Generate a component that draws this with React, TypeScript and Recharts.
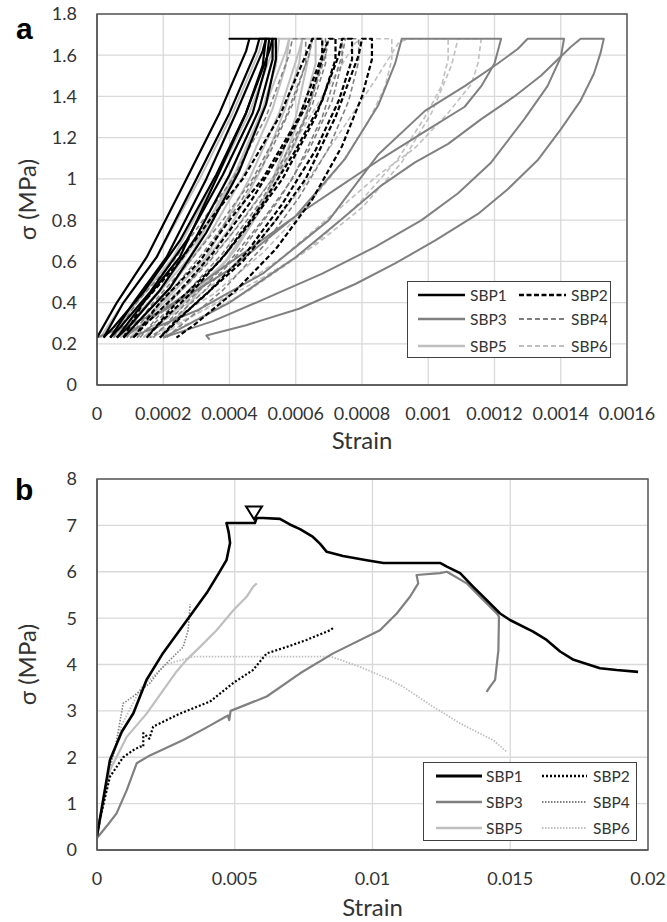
import { CartesianGrid, ComposedChart, Line, ReferenceArea, Scatter, XAxis, YAxis } from "recharts";

type Pt = [number, number];

// ---- panel a: cyclic loops, [strain, stress MPa] ----
const sbp1Loops: Pt[][] = [
  [[0, 0.23], [0.00006, 0.4], [0.00015, 0.62], [0.00027, 1.0], [0.00037, 1.32], [0.00045, 1.62], [0.00046, 1.68], [0.0004, 1.68], [0.00051, 1.68],
   [0.0005, 1.55], [0.00045, 1.32], [0.00036, 1.02], [0.00025, 0.7], [0.00014, 0.45], [0.00005, 0.28], [0.00002, 0.23]],
  [[0.00002, 0.23], [0.00008, 0.4], [0.00018, 0.62], [0.0003, 1.0], [0.0004, 1.32], [0.00048, 1.62], [0.00049, 1.68], [0.00052, 1.68],
   [0.00051, 1.55], [0.00047, 1.32], [0.00038, 1.02], [0.00027, 0.7], [0.00016, 0.45], [0.00007, 0.28], [0.00004, 0.23]],
  [[0.00004, 0.23], [0.00011, 0.4], [0.00021, 0.62], [0.00033, 1.0], [0.00042, 1.32], [0.0005, 1.62], [0.00051, 1.68], [0.00053, 1.68],
   [0.00053, 1.58], [0.00049, 1.34], [0.0004, 1.02], [0.0003, 0.72], [0.00019, 0.46], [0.0001, 0.29], [0.00006, 0.23]],
  [[0.00006, 0.23], [0.00014, 0.4], [0.00025, 0.62], [0.00036, 1.0], [0.00045, 1.32], [0.00052, 1.62], [0.00053, 1.68], [0.00054, 1.68],
   [0.00054, 1.58], [0.00051, 1.36], [0.00043, 1.04], [0.00033, 0.74], [0.00022, 0.47], [0.00012, 0.3], [0.00008, 0.23]],
];

const sbp2Loops: Pt[][] = [
  [[0.00008, 0.23], [0.00014, 0.4], [0.00025, 0.6], [0.00034, 0.8], [0.00044, 1.0], [0.00055, 1.3], [0.00063, 1.6], [0.00065, 1.68], [0.00068, 1.68],
   [0.00068, 1.58], [0.00064, 1.38], [0.00056, 1.14], [0.00046, 0.88], [0.00035, 0.64], [0.00024, 0.44], [0.00015, 0.3], [0.00011, 0.23]],
  [[0.00011, 0.23], [0.00019, 0.4], [0.00031, 0.6], [0.0004, 0.8], [0.0005, 1.0], [0.00061, 1.3], [0.00068, 1.6], [0.0007, 1.68], [0.00072, 1.68],
   [0.00072, 1.58], [0.00068, 1.38], [0.0006, 1.14], [0.0005, 0.88], [0.00039, 0.64], [0.00028, 0.44], [0.00019, 0.3], [0.00015, 0.23]],
  [[0.00015, 0.23], [0.00024, 0.4], [0.00037, 0.6], [0.00047, 0.8], [0.00056, 1.0], [0.00066, 1.3], [0.00073, 1.6], [0.00074, 1.68], [0.00077, 1.68],
   [0.00077, 1.58], [0.00073, 1.38], [0.00066, 1.14], [0.00056, 0.88], [0.00045, 0.64], [0.00033, 0.44], [0.00023, 0.3], [0.00019, 0.23]],
  [[0.00019, 0.23], [0.0003, 0.4], [0.00044, 0.6], [0.00054, 0.8], [0.00063, 1.0], [0.00072, 1.3], [0.00079, 1.6], [0.0008, 1.68], [0.00083, 1.68],
   [0.00083, 1.58], [0.0008, 1.4], [0.00074, 1.16], [0.00065, 0.9], [0.00054, 0.66], [0.00042, 0.46], [0.0003, 0.3], [0.00024, 0.23]],
];

const sbp3Loops: Pt[][] = [
  [[0, 0.23], [0.0002, 0.36], [0.0004, 0.56], [0.0006, 0.82], [0.00075, 1.1], [0.00085, 1.36], [0.0009, 1.56], [0.00092, 1.68], [0.00122, 1.68],
   [0.0012, 1.56], [0.00116, 1.45], [0.00111, 1.35], [0.001, 1.24], [0.00086, 1.1], [0.00073, 0.96], [0.0006, 0.82], [0.00046, 0.66],
   [0.00031, 0.49], [0.00018, 0.34], [0.00008, 0.23]],
  [[0.0001, 0.23], [0.0003, 0.36], [0.0005, 0.54], [0.0007, 0.8], [0.00085, 1.12], [0.00099, 1.33], [0.00111, 1.45], [0.00121, 1.56],
   [0.00127, 1.63], [0.0013, 1.68], [0.00141, 1.68],
   [0.0014, 1.59], [0.00136, 1.45], [0.00129, 1.29], [0.00119, 1.08], [0.00109, 0.93], [0.00098, 0.8], [0.00084, 0.67], [0.00068, 0.54],
   [0.00051, 0.42], [0.00035, 0.31], [0.0002, 0.23]],
  [[0.0002, 0.23], [0.0004, 0.4], [0.0006, 0.62], [0.00075, 0.82], [0.00086, 0.97], [0.00096, 1.08], [0.00106, 1.17], [0.00116, 1.29],
   [0.00126, 1.4], [0.00134, 1.5], [0.00143, 1.64], [0.00146, 1.68], [0.00153, 1.68],
   [0.00152, 1.61], [0.0015, 1.51], [0.00146, 1.38], [0.0014, 1.24], [0.00133, 1.09], [0.00124, 0.95], [0.00115, 0.83], [0.00102, 0.7],
   [0.0009, 0.59], [0.00078, 0.49], [0.00061, 0.37], [0.00045, 0.29], [0.00033, 0.24], [0.00034, 0.22]],
];

const sbp4Loops: Pt[][] = [
  [[0.00005, 0.23], [0.00012, 0.4], [0.00023, 0.6], [0.00032, 0.8], [0.00041, 1.0], [0.00051, 1.3], [0.00058, 1.6], [0.00059, 1.68], [0.00063, 1.68],
   [0.00063, 1.56], [0.00059, 1.36], [0.00052, 1.12], [0.00043, 0.88], [0.00032, 0.64], [0.00021, 0.43], [0.00012, 0.28], [0.00008, 0.23]],
  [[0.00009, 0.23], [0.00017, 0.4], [0.00028, 0.6], [0.00038, 0.8], [0.00047, 1.0], [0.00057, 1.3], [0.00064, 1.6], [0.00065, 1.68], [0.00069, 1.68],
   [0.00069, 1.56], [0.00065, 1.36], [0.00058, 1.12], [0.00049, 0.88], [0.00038, 0.64], [0.00026, 0.43], [0.00016, 0.28], [0.00012, 0.23]],
  [[0.00013, 0.23], [0.00022, 0.4], [0.00034, 0.6], [0.00044, 0.8], [0.00053, 1.0], [0.00063, 1.3], [0.00069, 1.6], [0.0007, 1.68], [0.00074, 1.68],
   [0.00074, 1.57], [0.00071, 1.38], [0.00064, 1.14], [0.00055, 0.9], [0.00044, 0.66], [0.00032, 0.45], [0.00021, 0.29], [0.00016, 0.23]],
  [[0.00017, 0.23], [0.00027, 0.4], [0.0004, 0.6], [0.0005, 0.8], [0.00059, 1.0], [0.00068, 1.3], [0.00074, 1.6], [0.00075, 1.68], [0.00079, 1.68],
   [0.00079, 1.57], [0.00076, 1.38], [0.0007, 1.15], [0.00061, 0.91], [0.0005, 0.67], [0.00038, 0.46], [0.00026, 0.3], [0.00021, 0.23]],
];

const sbp5Loops: Pt[][] = [
  [[0.00001, 0.23], [0.00008, 0.4], [0.00018, 0.62], [0.00031, 1.0], [0.00041, 1.32], [0.00049, 1.62], [0.0005, 1.68], [0.00055, 1.68],
   [0.00054, 1.55], [0.0005, 1.34], [0.00042, 1.04], [0.00031, 0.72], [0.00019, 0.46], [0.00009, 0.29], [0.00004, 0.23]],
  [[0.00004, 0.23], [0.00012, 0.4], [0.00023, 0.62], [0.00036, 1.0], [0.00046, 1.32], [0.00053, 1.62], [0.00054, 1.68], [0.00058, 1.68],
   [0.00057, 1.55], [0.00053, 1.34], [0.00045, 1.04], [0.00034, 0.73], [0.00022, 0.47], [0.00012, 0.3], [0.00007, 0.23]],
  [[0.00007, 0.23], [0.00016, 0.4], [0.00028, 0.62], [0.00041, 1.0], [0.0005, 1.32], [0.00057, 1.62], [0.00058, 1.68], [0.00062, 1.68],
   [0.00061, 1.56], [0.00057, 1.35], [0.0005, 1.06], [0.0004, 0.76], [0.00028, 0.5], [0.00016, 0.32], [0.0001, 0.23]],
  [[0.0001, 0.23], [0.0002, 0.4], [0.00033, 0.62], [0.00046, 1.0], [0.00055, 1.32], [0.00061, 1.62], [0.00062, 1.68], [0.00066, 1.68],
   [0.00066, 1.56], [0.00063, 1.38], [0.00057, 1.12], [0.00049, 0.85], [0.00038, 0.58], [0.00025, 0.38], [0.00014, 0.23]],
  [[0.00014, 0.23], [0.00026, 0.4], [0.0004, 0.62], [0.00052, 0.95], [0.0006, 1.3], [0.00064, 1.6], [0.00065, 1.68], [0.00068, 1.68],
   [0.00068, 1.58], [0.00065, 1.4], [0.0006, 1.18], [0.00052, 0.92], [0.00042, 0.66], [0.0003, 0.44], [0.0002, 0.23]],
];

const sbp6Loops: Pt[][] = [
  [[0.00005, 0.23], [0.00015, 0.33], [0.00028, 0.5], [0.0004, 0.72], [0.00052, 0.98], [0.00062, 1.24], [0.00071, 1.48], [0.00078, 1.66],
   [0.0008, 1.68], [0.00089, 1.68],
   [0.00089, 1.58], [0.00087, 1.45], [0.00082, 1.28], [0.00074, 1.08], [0.00063, 0.86], [0.0005, 0.64], [0.00035, 0.44], [0.0002, 0.29], [0.0001, 0.23]],
  [[0.0001, 0.23], [0.00022, 0.33], [0.00036, 0.5], [0.0005, 0.72], [0.00063, 0.98], [0.00074, 1.24], [0.00084, 1.48], [0.00091, 1.66],
   [0.00094, 1.68], [0.00106, 1.68],
   [0.00106, 1.58], [0.00104, 1.45], [0.00099, 1.3], [0.00091, 1.1], [0.00079, 0.88], [0.00064, 0.66], [0.00046, 0.46], [0.00028, 0.3], [0.00015, 0.23]],
  [[0.00015, 0.23], [0.00032, 0.36], [0.0005, 0.52], [0.00066, 0.68], [0.0008, 0.86], [0.00092, 1.08], [0.00101, 1.32], [0.00107, 1.55],
   [0.00109, 1.68], [0.00116, 1.68],
   [0.00115, 1.56], [0.00113, 1.46], [0.00106, 1.32], [0.00096, 1.15], [0.00085, 1.02], [0.00072, 0.84], [0.00056, 0.62], [0.00038, 0.42],
   [0.00022, 0.27], [0.00016, 0.23]],
];

const xTicksA = [0, 0.0002, 0.0004, 0.0006, 0.0008, 0.001, 0.0012, 0.0014, 0.0016];
const yTicksA = [0, 0.2, 0.4, 0.6, 0.8, 1, 1.2, 1.4, 1.6, 1.8];

// ---- panel b: monotonic tests ----
const sbp1B: Pt[] = [
  [0, 0.3], [0.0002, 1.0], [0.00047, 1.94], [0.0009, 2.55], [0.00132, 2.95], [0.0018, 3.67], [0.0024, 4.25], [0.003, 4.74], [0.0035, 5.15],
  [0.00398, 5.54], [0.0044, 5.95], [0.0047, 6.25], [0.00483, 6.62], [0.00478, 6.85], [0.0047, 7.05], [0.00573, 7.05], [0.0058, 7.16],
  [0.00603, 7.16], [0.00664, 7.14], [0.007, 7.02], [0.00737, 6.92], [0.00784, 6.75], [0.0081, 6.6], [0.00834, 6.43], [0.00893, 6.34],
  [0.00979, 6.25], [0.0104, 6.19], [0.01245, 6.19], [0.0127, 6.11], [0.01318, 5.97], [0.01365, 5.68], [0.01414, 5.39], [0.01463, 5.1],
  [0.01499, 4.96], [0.01583, 4.71], [0.01632, 4.53], [0.01681, 4.28], [0.0173, 4.1], [0.01826, 3.92], [0.01886, 3.88], [0.01964, 3.84],
];
const sbp2B: Pt[] = [
  [0, 0.3], [0.0001, 0.65], [0.00047, 1.58], [0.00095, 2.0], [0.00131, 2.15], [0.00156, 2.23], [0.00168, 2.23], [0.00168, 2.52],
  [0.0019, 2.4], [0.00204, 2.66], [0.00301, 2.94], [0.0041, 3.2], [0.00494, 3.6], [0.00566, 3.88], [0.00616, 4.24], [0.00689, 4.38],
  [0.00761, 4.53], [0.00846, 4.74], [0.0086, 4.8],
];
const sbp3B: Pt[] = [
  [0, 0.26], [0.0004, 0.55], [0.00071, 0.79], [0.00108, 1.29], [0.00144, 1.87], [0.00192, 2.04], [0.00313, 2.37], [0.004, 2.65],
  [0.00475, 2.9], [0.0048, 2.8], [0.00485, 3.0], [0.00616, 3.31], [0.00737, 3.81], [0.00857, 4.24], [0.01027, 4.74], [0.01088, 5.1],
  [0.01136, 5.46], [0.01166, 5.75], [0.0116, 5.93], [0.01245, 5.97], [0.0127, 6.0], [0.01342, 5.75], [0.0139, 5.46], [0.01451, 5.1],
  [0.01459, 5.03], [0.01457, 4.31], [0.01445, 3.67], [0.0143, 3.55], [0.01414, 3.41],
];
const sbp4B: Pt[] = [
  [0, 0.3], [0.00035, 1.5], [0.00065, 2.16], [0.00095, 3.16], [0.00131, 3.31], [0.00192, 3.6], [0.00229, 3.88], [0.00253, 4.03],
  [0.00313, 4.38], [0.00331, 4.74], [0.00338, 5.3],
];
const sbp5B: Pt[] = [
  [0, 0.3], [0.00047, 1.72], [0.00108, 2.44], [0.0018, 2.94], [0.00289, 3.85], [0.00325, 4.1], [0.00374, 4.38], [0.00434, 4.74],
  [0.00495, 5.17], [0.00543, 5.46], [0.00567, 5.68], [0.0058, 5.75],
];
const sbp6B: Pt[] = [
  [0, 0.3], [0.0004, 1.7], [0.0009, 2.7], [0.0016, 3.5], [0.0025, 4.0], [0.0035, 4.17], [0.0085, 4.17], [0.00955, 3.95], [0.01064, 3.67],
  [0.01111, 3.52], [0.0122, 3.09], [0.01318, 2.73], [0.01414, 2.44], [0.01438, 2.37], [0.01487, 2.12],
];
const peakMarker: Pt[] = [[0.0057, 7.28]];

const xTicksB = [0, 0.005, 0.01, 0.015, 0.02];
const yTicksB = [0, 1, 2, 3, 4, 5, 6, 7, 8];

const BLACK = "#000000";
const MID = "#808080";
const LIGHT = "#bfbfbf";
const FONT = "Lato, 'Open Sans', sans-serif";
const TXT = "#333333";

type Style = { name: string; color: string; width: number; dash?: string };

const stylesA: Record<string, Style> = {
  SBP1: { name: "SBP1", color: BLACK, width: 2.2 },
  SBP2: { name: "SBP2", color: BLACK, width: 2.2, dash: "5 2.5" },
  SBP3: { name: "SBP3", color: MID, width: 2 },
  SBP4: { name: "SBP4", color: MID, width: 1.6, dash: "5 3" },
  SBP5: { name: "SBP5", color: LIGHT, width: 2 },
  SBP6: { name: "SBP6", color: LIGHT, width: 1.6, dash: "5 3" },
};

const stylesB: Record<string, Style> = {
  SBP1: { name: "SBP1", color: BLACK, width: 2.6 },
  SBP2: { name: "SBP2", color: BLACK, width: 2.2, dash: "2 2" },
  SBP3: { name: "SBP3", color: MID, width: 2.2 },
  SBP4: { name: "SBP4", color: MID, width: 1.6, dash: "1.5 1.5" },
  SBP5: { name: "SBP5", color: LIGHT, width: 2.2 },
  SBP6: { name: "SBP6", color: LIGHT, width: 1.8, dash: "1.5 1.5" },
};

const rows = (pts: Pt[]) => pts.map(([x, y]) => ({ x, y }));

// back-to-front drawing order
const loopsA: [string, Pt[][]][] = [
  ["SBP6", sbp6Loops],
  ["SBP5", sbp5Loops],
  ["SBP4", sbp4Loops],
  ["SBP3", sbp3Loops],
  ["SBP2", sbp2Loops],
  ["SBP1", sbp1Loops],
];
const curvesB: [string, Pt[]][] = [
  ["SBP6", sbp6B],
  ["SBP4", sbp4B],
  ["SBP5", sbp5B],
  ["SBP2", sbp2B],
  ["SBP3", sbp3B],
  ["SBP1", sbp1B],
];

const tick = { fill: TXT, fontSize: 18, fontFamily: FONT };
const axisTitle = { fill: TXT, fontSize: 24, fontFamily: FONT };

function LegendBox({
  styles,
  left,
  top,
  width,
  height,
  rowY,
  col1,
  col2,
}: {
  styles: Record<string, Style>;
  left: number;
  top: number;
  width: number;
  height: number;
  rowY: number[];
  col1: number[];
  col2: number[];
}) {
  const pairs = [
    ["SBP1", "SBP2"],
    ["SBP3", "SBP4"],
    ["SBP5", "SBP6"],
  ];
  return (
    <div
      style={{
        position: "absolute",
        left,
        top,
        width,
        height,
        border: "1.5px solid #404040",
        background: "#fff",
        boxSizing: "border-box",
      }}
    >
      <svg width={width - 3} height={height - 3} style={{ display: "block" }}>
        {pairs.map((pair, r) =>
          pair.map((key, c) => {
            const s = styles[key];
            const [x1, x2, tx] = c === 0 ? col1 : col2;
            const y = rowY[r];
            return (
              <g key={key}>
                <line x1={x1} x2={x2} y1={y} y2={y} stroke={s.color} strokeWidth={s.width + 0.4} strokeDasharray={s.dash} />
                <text x={tx} y={y} dy="0.36em" fontSize={15.5} fontFamily={FONT} fill={TXT}>
                  {s.name}
                </text>
              </g>
            );
          })
        )}
      </svg>
    </div>
  );
}

function InvertedTriangle(props: { cx?: number; cy?: number }) {
  const { cx = 0, cy = 0 } = props;
  return (
    <path
      d={`M${cx - 8},${cy - 6} L${cx + 8},${cy - 6} L${cx},${cy + 7} Z`}
      fill="none"
      stroke={BLACK}
      strokeWidth={2}
    />
  );
}

export default function App() {
  return (
    <div style={{ position: "absolute", left: 0, top: 0, width: 667, height: 922, background: "#fff" }}>
      <div style={{ position: "absolute", left: 0, top: 0 }}>
        <ComposedChart width={667} height={460} margin={{ top: 14, right: 40, left: 0, bottom: 11 }}>
          <CartesianGrid stroke="#d9d9d9" strokeWidth={1.3} />
          <XAxis
            type="number"
            dataKey="x"
            domain={[0, 0.0016]}
            ticks={xTicksA}
            allowDataOverflow
            height={64}
            tickLine={false}
            axisLine={{ stroke: "#595959", strokeWidth: 1.5 }}
            tick={tick}
            tickMargin={16}
            label={{ value: "Strain", position: "insideBottom", offset: 0, ...axisTitle }}
          />
          <YAxis
            type="number"
            domain={[0, 1.8]}
            ticks={yTicksA}
            allowDataOverflow
            width={97}
            tickLine={false}
            axisLine={{ stroke: "#595959", strokeWidth: 1.5 }}
            tick={tick}
            tickMargin={14}
            label={{ value: "σ (MPa)", angle: -90, position: "insideLeft", offset: 27, textAnchor: "middle", ...axisTitle }}
          />
          {loopsA.map(([key, loops]) =>
            loops.map((loop, i) => {
              const s = stylesA[key];
              return (
                <Line
                  key={`${key}-${i}`}
                  data={rows(loop)}
                  dataKey="y"
                  type="linear"
                  stroke={s.color}
                  strokeWidth={s.width}
                  strokeDasharray={s.dash}
                  strokeLinejoin="round"
                  dot={false}
                  activeDot={false}
                  isAnimationActive={false}
                />
              );
            })
          )}
          <ReferenceArea x1={0} x2={0.0016} y1={0} y2={1.8} fill="none" stroke="#595959" strokeWidth={1.5} ifOverflow="visible" />
        </ComposedChart>
      </div>

      <div style={{ position: "absolute", left: 0, top: 465 }}>
        <ComposedChart width={667} height={457} margin={{ top: 14, right: 19, left: 0, bottom: 6 }}>
          <CartesianGrid stroke="#d9d9d9" strokeWidth={1.3} />
          <XAxis
            type="number"
            dataKey="x"
            domain={[0, 0.02]}
            ticks={xTicksB}
            allowDataOverflow
            height={66}
            tickLine={false}
            axisLine={{ stroke: "#595959", strokeWidth: 1.5 }}
            tick={tick}
            tickMargin={16}
            label={{ value: "Strain", position: "insideBottom", offset: 0, ...axisTitle }}
          />
          <YAxis
            type="number"
            domain={[0, 8]}
            ticks={yTicksB}
            allowDataOverflow
            width={97}
            tickLine={false}
            axisLine={{ stroke: "#595959", strokeWidth: 1.5 }}
            tick={tick}
            tickMargin={14}
            label={{ value: "σ (MPa)", angle: -90, position: "insideLeft", offset: 27, textAnchor: "middle", ...axisTitle }}
          />
          {curvesB.map(([key, pts]) => {
            const s = stylesB[key];
            return (
              <Line
                key={key}
                data={rows(pts)}
                dataKey="y"
                type="linear"
                stroke={s.color}
                strokeWidth={s.width}
                strokeDasharray={s.dash}
                strokeLinejoin="round"
                dot={false}
                activeDot={false}
                isAnimationActive={false}
              />
            );
          })}
          <Scatter data={rows(peakMarker)} dataKey="y" shape={<InvertedTriangle />} isAnimationActive={false} />
          <ReferenceArea x1={0} x2={0.02} y1={0} y2={8} fill="none" stroke="#595959" strokeWidth={1.5} ifOverflow="visible" />
        </ComposedChart>
      </div>

      <LegendBox
        styles={stylesA}
        left={407}
        top={281}
        width={204}
        height={77}
        rowY={[13, 37, 64]}
        col1={[10, 57, 62]}
        col2={[111, 158, 163]}
      />
      <LegendBox
        styles={stylesB}
        left={423}
        top={762}
        width={214}
        height={79}
        rowY={[13, 39, 65]}
        col1={[12, 58, 62]}
        col2={[118, 163, 169]}
      />

      <div style={{ position: "absolute", left: 16, top: 14, fontFamily: "'Liberation Sans', Arial, sans-serif", fontWeight: 700, fontSize: 30, lineHeight: "30px" }}>
        a
      </div>
      <div style={{ position: "absolute", left: 15, top: 475, fontFamily: "'Liberation Sans', Arial, sans-serif", fontWeight: 700, fontSize: 30, lineHeight: "30px" }}>
        b
      </div>
    </div>
  );
}
